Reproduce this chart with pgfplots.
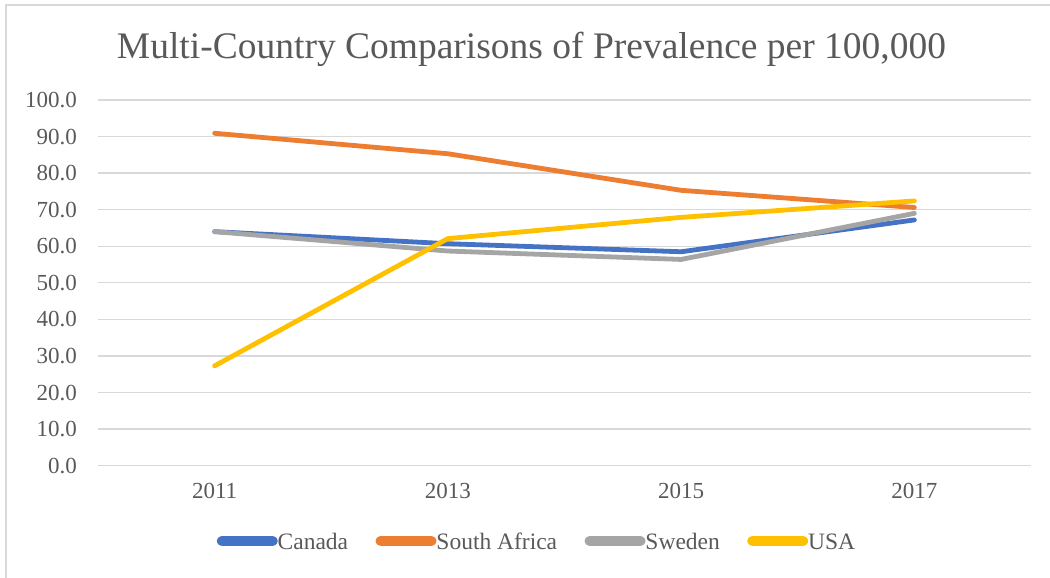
\documentclass[border=0pt]{standalone}
\usepackage{pgfplots}
\pgfplotsset{compat=1.18}
\usepackage{fontspec}
\setmainfont{Liberation Serif}

\definecolor{cCanada}{HTML}{4472C4}
\definecolor{cSAfrica}{HTML}{ED7D31}
\definecolor{cSweden}{HTML}{A5A5A5}
\definecolor{cUSA}{HTML}{FFC000}
\definecolor{gridgray}{HTML}{D9D9D9}
\definecolor{textgray}{HTML}{595959}

% prevalence per 100,000 by survey year (x = 0,1,2,3 for 2011..2017)
\pgfplotstableread{
x  canada safrica sweden usa
0  64.0   90.9    64.0   27.3
1  60.7   85.3    58.7   62.1
2  58.5   75.3    56.4   67.9
3  67.2   70.6    69.0   72.4
}\prevdata

\begin{document}
\begin{tikzpicture}[x=1bp,y=1bp]
  \path[use as bounding box] (0,0) rectangle (1050,578);
  % chart frame (top and left edges)
  \draw[gridgray, line width=1.2bp] (6,0) -- (6,573) -- (1050,573);
  % title
  \node[anchor=base, text=textgray, font=\fontsize{37.5bp}{42bp}\selectfont, inner sep=0pt]
    at (531.5,519) {Multi-Country Comparisons of Prevalence per 100,000};
  \begin{axis}[
    at={(98bp,112.3bp)}, anchor=south west,
    scale only axis, width=933bp, height=365.7bp,
    xmin=-0.5, xmax=3.5, ymin=0, ymax=100,
    xtick={0,1,2,3}, xticklabels={2011,2013,2015,2017},
    ytick={0,10,...,100},
    yticklabels={0.0,10.0,20.0,30.0,40.0,50.0,60.0,70.0,80.0,90.0,100.0},
    axis line style={draw=none}, tick style={draw=none},
    ymajorgrids, grid style={gridgray, line width=1.3bp},
    ticklabel style={text=textgray, font=\fontsize{23bp}{26bp}\selectfont, inner sep=0pt},
    yticklabel style={anchor=east, xshift=-21bp},
    xticklabel style={anchor=north, yshift=-17.5bp},
    legend columns=4,
    legend style={at={(axis description cs:0.1272,-0.2086)}, anchor=west,
      draw=none, fill=none, inner sep=0pt,
      font=\fontsize{23.5bp}{26bp}\selectfont, text=textgray,
      nodes={inner sep=0pt},
      /tikz/every odd column/.append style={column sep=0bp},
      /tikz/every even column/.append style={column sep=27.5bp}},
    legend image code/.code={%
      \fill[#1, rounded corners=2.4bp] (0bp,-1.4bp) rectangle (56bp,3.4bp);},
    every axis plot/.append style={line width=4.8bp, line cap=round, line join=round, mark=none},
  ]
    \addplot[cCanada]  table[x=x, y=canada]  {\prevdata};
    \addplot[cSAfrica] table[x=x, y=safrica] {\prevdata};
    \addplot[cSweden]  table[x=x, y=sweden]  {\prevdata};
    \addplot[cUSA]     table[x=x, y=usa]     {\prevdata};
    \legend{Canada, South Africa, Sweden, USA}
  \end{axis}
\end{tikzpicture}
\end{document}
